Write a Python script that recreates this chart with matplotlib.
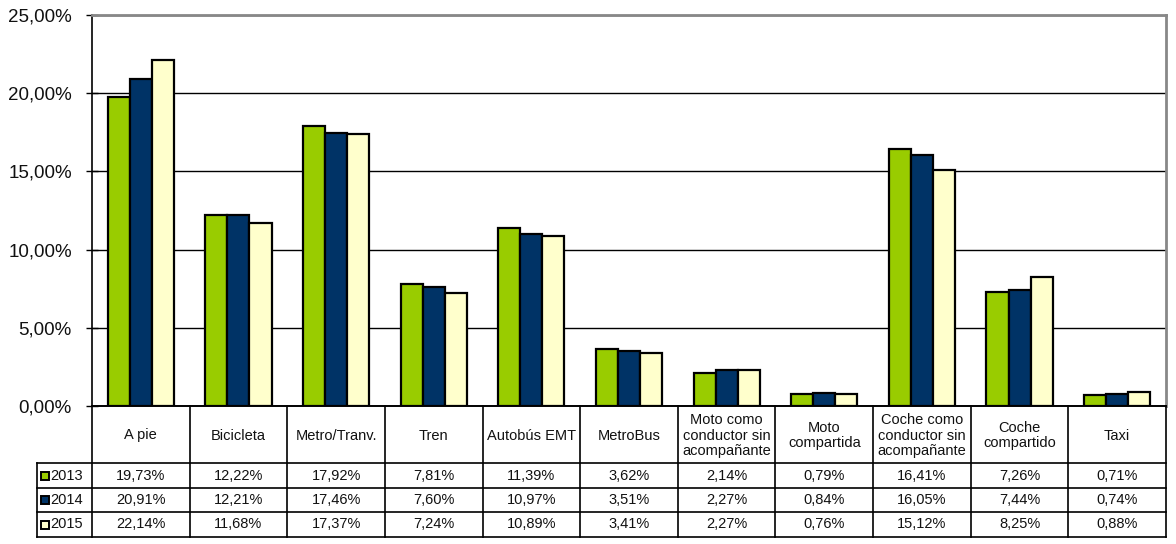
import matplotlib
matplotlib.use("Agg")
import matplotlib.pyplot as plt
import numpy as np
from matplotlib.patches import Rectangle

categories = ["A pie", "Bicicleta", "Metro/Tranv.", "Tren", "Autobús EMT", "MetroBus",
              "Moto como\nconductor sin\nacompañante", "Moto\ncompartida",
              "Coche como\nconductor sin\nacompañante", "Coche\ncompartido", "Taxi"]
years = ["2013", "2014", "2015"]
v2013 = [19.73, 12.22, 17.92, 7.81, 11.39, 3.62, 2.14, 0.79, 16.41, 7.26, 0.71]
v2014 = [20.91, 12.21, 17.46, 7.60, 10.97, 3.51, 2.27, 0.84, 16.05, 7.44, 0.74]
v2015 = [22.14, 11.68, 17.37, 7.24, 10.89, 3.41, 2.27, 0.76, 15.12, 8.25, 0.88]
series = [v2013, v2014, v2015]
colors = ["#99CC00", "#003366", "#FFFFCC"]
yticks = [0, 5, 10, 15, 20, 25]

plt.rcParams['font.family'] = ['Liberation Sans', 'DejaVu Sans']

W, H = 1176, 544
fig = plt.figure(figsize=(W / 100, H / 100), dpi=100)

L, R, T, B = 92, 1166, 15, 406
ax = fig.add_axes([L / W, 1 - B / H, (R - L) / W, (B - T) / H])
n = len(categories)
x = np.arange(n)
bw = 0.226
for i, (vals, c) in enumerate(zip(series, colors)):
    ax.bar(x + (i - 1) * bw, vals, width=bw, color=c, edgecolor="black", linewidth=1.6, zorder=3)
ax.set_xlim(-0.5, n - 0.5)
ax.set_ylim(0, 25)
ax.set_yticks(yticks)
ax.set_yticklabels([f"{t:.2f}%".replace(".", ",") for t in yticks], fontsize=13.5, color="#111111")
ax.set_xticks([])
ax.yaxis.grid(True, color="black", linewidth=1.0, zorder=0)
ax.tick_params(axis="y", length=8, width=1, pad=10.5, direction="inout")
for s in ["top", "right"]:
    ax.spines[s].set_color("#888888")
    ax.spines[s].set_linewidth(2)
ax.spines["left"].set_linewidth(1.2)
ax.spines["bottom"].set_linewidth(1.2)

# data table
TL = 37
TB = 537
rows_y = [406, 463, 488, 512, 537]
unit = (R - L) / n
xl = -0.5 - (L - TL) / unit
tax = fig.add_axes([TL / W, 1 - TB / H, (R - TL) / W, (TB - B) / H])
tax.set_xlim(xl, n - 0.5)
tax.set_ylim(TB, B)
tax.axis("off")
lw = 1.2
fs = 10.5
tax.plot([-0.5, n - 0.5], [rows_y[0]] * 2, color="black", lw=lw, clip_on=False)
for yy in rows_y[1:]:
    tax.plot([xl, n - 0.5], [yy, yy], color="black", lw=lw, clip_on=False)
for k in range(n + 1):
    tax.plot([k - 0.5, k - 0.5], [rows_y[0], rows_y[-1]], color="black", lw=lw, clip_on=False)
tax.plot([xl, xl], [rows_y[1], rows_y[-1]], color="black", lw=lw, clip_on=False)
for k, cat in enumerate(categories):
    tax.text(k, (rows_y[0] + rows_y[1]) / 2 + 1, cat, ha="center", va="center", fontsize=fs,
             linespacing=1.1, color="#111111")
for r, (yr, vals, c) in enumerate(zip(years, series, colors)):
    yc = (rows_y[r + 1] + rows_y[r + 2]) / 2
    sq = 8 / unit
    tax.add_patch(Rectangle((xl + 4 / unit, yc - 4), sq, 8, facecolor=c, edgecolor="black",
                            linewidth=1.4, clip_on=False))
    tax.text(xl + 13 / unit, yc, yr, ha="left", va="center", fontsize=fs, color="#111111")
    for k, v in enumerate(vals):
        tax.text(k, yc, f"{v:.2f}%".replace(".", ","), ha="center", va="center", fontsize=fs,
                 color="#111111")

fig.savefig("out.png", dpi=100)
